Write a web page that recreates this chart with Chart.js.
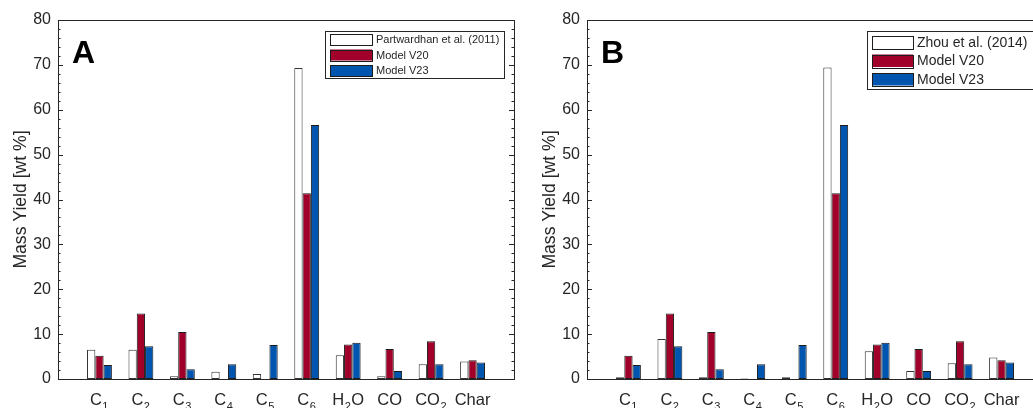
<!DOCTYPE html>
<html>
<head>
<meta charset="utf-8">
<script src="https://cdn.jsdelivr.net/npm/chart.js@4.4.1/dist/chart.umd.min.js"></script>
<style>
  html, body { margin: 0; padding: 0; background: #fff; overflow: hidden; }
  body { width: 1033px; height: 408px; position: relative; }
  canvas { position: absolute; top: 0; }
  #chartA { left: 0; }
  #chartB { left: 529px; }
</style>
</head>
<body>
<canvas id="chartA" width="529" height="408"></canvas>
<canvas id="chartB" width="529" height="408"></canvas>
<script>
const CATEGORIES = ['C₁', 'C₂', 'C₃', 'C₄', 'C₅', 'C₆', 'H₂O', 'CO', 'CO₂', 'Char'];
const Y_TICKS = [0, 10, 20, 30, 40, 50, 60, 70, 80];

// experiment, panel A
const PATWARDHAN = [6.5, 6.5, 0.6, 1.6, 1.1, 69.3, 5.3, 0.6, 3.3, 3.9];
// experiment, panel B
const ZHOU = [0.4, 8.9, 0.4, 0.1, 0.4, 69.4, 6.2, 1.8, 3.5, 4.8];
// models, same in both panels
const MODEL_V20 = [5.2, 14.6, 10.5, 0, 0, 41.4, 7.7, 6.7, 8.4, 4.2];
const MODEL_V23 = [3.1, 7.3, 2.2, 3.3, 7.6, 56.6, 8.1, 1.8, 3.3, 3.7];

const COLORS = {
  axis: '#262626',
  white: '#ffffff',
  red: '#A0002A',
  blue: '#0055AF',
  edge: '#1c1c1c'
};

const FONT = '"Liberation Sans", Arial, Helvetica, sans-serif';
const SUBS = { '₀': '0', '₁': '1', '₂': '2', '₃': '3', '₄': '4', '₅': '5', '₆': '6', '₇': '7', '₈': '8', '₉': '9' };

function toPoints(values) {
  return values.map((v, i) => ({ x: i + 1, y: v }));
}

function barSet(label, values, fill, edge) {
  return {
    label,
    data: toPoints(values),
    backgroundColor: fill,
    borderColor: edge,
    borderWidth: 1,
    borderSkipped: false,
    barPercentage: 1,
    categoryPercentage: 0.6
  };
}

// splits 'CO₂' into [{t:'CO', sub:false}, {t:'2', sub:true}]
function splitLabel(label) {
  const parts = [];
  for (const ch of label) {
    const sub = ch in SUBS;
    const t = sub ? SUBS[ch] : ch;
    const last = parts[parts.length - 1];
    if (last && last.sub === sub) last.t += t;
    else parts.push({ t, sub });
  }
  return parts;
}

const panelDecor = {
  id: 'panelDecor',
  afterDraw(chart, args, opts) {
    const { ctx, chartArea: a, scales } = chart;
    const y = scales.y;
    const x = scales.x;
    ctx.save();

    // box
    ctx.strokeStyle = COLORS.axis;
    ctx.lineWidth = 1;
    ctx.strokeRect(Math.round(a.left) + 0.5, Math.round(a.top) + 0.5, Math.round(a.right - a.left), Math.round(a.bottom - a.top));

    // inward ticks, left and right
    ctx.beginPath();
    for (let v = 0; v <= 80; v += 2) {
      const py = Math.round(y.getPixelForValue(v)) + 0.5;
      const len = v % 10 === 0 ? 5 : 2.5;
      ctx.moveTo(a.left, py);
      ctx.lineTo(a.left + len, py);
      ctx.moveTo(a.right, py);
      ctx.lineTo(a.right - len, py);
    }
    ctx.stroke();

    // category labels with subscripts
    ctx.fillStyle = COLORS.axis;
    ctx.textBaseline = 'alphabetic';
    ctx.textAlign = 'left';
    CATEGORIES.forEach((label, i) => {
      const parts = splitLabel(label);
      const widths = parts.map(p => {
        ctx.font = p.sub ? `11px ${FONT}` : `16.5px ${FONT}`;
        return ctx.measureText(p.t).width + (p.sub ? 1 : 0);
      });
      const total = widths.reduce((s, w) => s + w, 0);
      let px = x.getPixelForValue(i + 1) - total / 2;
      parts.forEach((p, k) => {
        ctx.font = p.sub ? `11px ${FONT}` : `16.5px ${FONT}`;
        ctx.fillText(p.t, p.sub ? px + 0.5 : px, p.sub ? a.bottom + 31 : a.bottom + 26);
        px += widths[k];
      });
    });

    // y title
    ctx.save();
    ctx.translate(25.5, (a.top + a.bottom) / 2);
    ctx.rotate(-Math.PI / 2);
    ctx.textAlign = 'center';
    ctx.font = `17.6px ${FONT}`;
    ctx.fillText('Mass Yield [wt %]', 0, 0);
    ctx.restore();

    // panel letter
    ctx.fillStyle = '#000';
    ctx.font = `bold 32px ${FONT}`;
    ctx.fillText(opts.letter, a.left + 14, a.top + 43);

    // legend
    const L = opts.legend;
    ctx.font = `${L.fontSize}px ${FONT}`;
    const textW = Math.max(...chart.data.datasets.map(d => ctx.measureText(d.label).width));
    const boxW = L.pad + L.swatchW + L.gap + textW + L.pad;
    const boxH = L.padTop + (chart.data.datasets.length - 1) * L.rowH + L.swatchH + L.padBottom;
    const bx = Math.round(a.right - 10 - boxW);
    const by = Math.round(a.top + 11);
    ctx.fillStyle = '#fff';
    ctx.fillRect(bx, by, boxW, boxH);
    ctx.strokeStyle = COLORS.axis;
    ctx.strokeRect(bx + 0.5, by + 0.5, Math.round(boxW), Math.round(boxH));
    ctx.textBaseline = 'middle';
    chart.data.datasets.forEach((d, i) => {
      const sy = by + L.padTop + i * L.rowH;
      ctx.fillStyle = d.backgroundColor;
      ctx.fillRect(bx + L.pad, sy, L.swatchW, L.swatchH);
      ctx.strokeStyle = COLORS.edge;
      ctx.strokeRect(bx + L.pad + 0.5, Math.round(sy) + 0.5, L.swatchW, Math.round(L.swatchH));
      ctx.fillStyle = COLORS.axis;
      ctx.fillText(d.label, bx + L.pad + L.swatchW + L.gap, sy + L.swatchH / 2 + 0.5);
    });

    ctx.restore();
  }
};

function renderPanel(id, letter, refLabel, refValues, legend) {
  const ctx = document.getElementById(id);
  return new Chart(ctx, {
    type: 'bar',
    data: {
      datasets: [
        barSet(refLabel, refValues, COLORS.white, '#333333'),
        barSet('Model V20', MODEL_V20, COLORS.red, COLORS.edge),
        barSet('Model V23', MODEL_V23, COLORS.blue, COLORS.edge)
      ]
    },
    options: {
      responsive: false,
      animation: false,
      devicePixelRatio: 1,
      layout: { padding: { left: 0, top: 20, right: 15, bottom: 29 } },
      plugins: {
        legend: { display: false },
        tooltip: { enabled: false },
        panelDecor: { letter, legend }
      },
      scales: {
        x: {
          type: 'linear',
          min: 0,
          max: CATEGORIES.length + 1,
          offset: false,
          display: false
        },
        y: {
          min: 0,
          max: 80,
          afterFit(scale) { scale.width = 58; },
          afterBuildTicks(scale) { scale.ticks = Y_TICKS.map(v => ({ value: v })); },
          border: { display: false },
          grid: { display: false, drawTicks: false },
          ticks: { padding: 7, color: COLORS.axis, font: { family: FONT, size: 16 } }
        }
      }
    },
    plugins: [panelDecor]
  });
}

renderPanel('chartA', 'A', 'Partwardhan et al. (2011)', PATWARDHAN, {
  fontSize: 11, rowH: 15.5, swatchW: 42, swatchH: 11, pad: 5, gap: 4, padTop: 3, padBottom: 2
});
renderPanel('chartB', 'B', 'Zhou et al. (2014)', ZHOU, {
  fontSize: 14, rowH: 18.5, swatchW: 41, swatchH: 12.5, pad: 5, gap: 4, padTop: 5, padBottom: 3
});
</script>
</body>
</html>
